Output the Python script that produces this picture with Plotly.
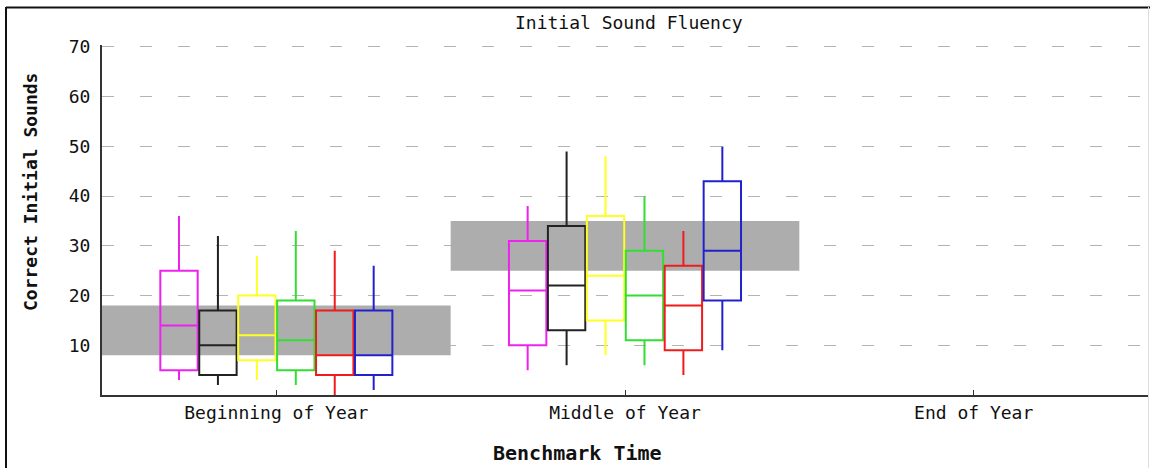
import plotly.graph_objects as go

# ---- data ----
categories = ["Beginning of Year", "Middle of Year", "End of Year"]
data_categories = ["Beginning of Year", "Middle of Year"]

series_names = ["Group 1", "Group 2", "Group 3", "Group 4", "Group 5", "Group 6"]
series_colors = ["#ee22ee", "#222222", "#ffff22", "#33dd33", "#ee1c1c", "#2222cc"]

lower_whisker = [[3, 5], [2, 6], [3, 8], [2, 6], [0, 4], [1, 9]]
q1_values     = [[5, 10], [4, 13], [7, 15], [5, 11], [4, 9], [4, 19]]
median_values = [[14, 21], [10, 22], [12, 24], [11, 20], [8, 18], [8, 29]]
q3_values     = [[25, 31], [17, 34], [20, 36], [19, 29], [17, 26], [17, 43]]
upper_whisker = [[36, 38], [32, 49], [28, 48], [33, 40], [29, 33], [26, 50]]

# benchmark goal bands per category
band_low = [8, 25]
band_high = [18, 35]

y_tick_values = [10, 20, 30, 40, 50, 60, 70]

MONO = "DejaVu Sans Mono"

fig = go.Figure()
for i, name in enumerate(series_names):
    fig.add_trace(go.Box(
        name=name,
        x=data_categories,
        q1=q1_values[i],
        median=median_values[i],
        q3=q3_values[i],
        lowerfence=lower_whisker[i],
        upperfence=upper_whisker[i],
        boxpoints=False,
        whiskerwidth=0,
        line=dict(color=series_colors[i], width=2),
        fillcolor="rgba(0,0,0,0)",
        hoverinfo="skip",
    ))

shapes = []
for k, (lo, hi) in enumerate(zip(band_low, band_high)):
    shapes.append(dict(type="rect", xref="x", yref="y",
                       x0=k - 0.5, x1=k + 0.5, y0=lo, y1=hi,
                       fillcolor="#adadad", line=dict(width=0), layer="between"))

# plot-area pixel geometry (y range extended slightly so the 70 gridline shows)
Y_TOP = 70.4
L, R, B = 102, 1148, 395
PX_PER_UNIT = 348 / 70
T = B - Y_TOP * PX_PER_UNIT

def px_x(p):
    return (p - L) / (R - L)
def px_y(p):
    return (B - p) / (B - T)

shapes.append(dict(type="line", xref="paper", yref="paper",
                   x0=px_x(6), x1=px_x(6), y0=px_y(7), y1=px_y(470),
                   line=dict(color="#111111", width=2), layer="above"))
shapes.append(dict(type="line", xref="paper", yref="paper",
                   x0=px_x(6), x1=px_x(1152), y0=px_y(7.5), y1=px_y(7.5),
                   line=dict(color="#111111", width=2), layer="above"))
shapes.append(dict(type="line", xref="paper", yref="paper",
                   x0=px_x(1148.5), x1=px_x(1148.5), y0=px_y(7), y1=px_y(470),
                   line=dict(color="#dddddd", width=1), layer="above"))

annotations = [
    dict(text="Initial Sound Fluency", xref="paper", yref="paper",
         x=px_x(629), y=px_y(23), xanchor="center", yanchor="middle",
         showarrow=False, font=dict(family=MONO, size=18, color="#111111")),
    dict(text="Correct Initial Sounds", xref="paper", yref="paper",
         x=px_x(31), y=px_y(192), xanchor="center", yanchor="middle",
         textangle=-90, showarrow=False,
         font=dict(family=MONO, size=18, color="#111111", weight="bold")),
    dict(text="Benchmark Time", xref="paper", yref="paper",
         x=px_x(577), y=px_y(453), xanchor="center", yanchor="middle",
         showarrow=False,
         font=dict(family=MONO, size=20, color="#111111", weight="bold")),
]

fig.update_layout(
    width=1150, height=468,
    margin=dict(l=L, r=1150 - R, t=T, b=468 - B, pad=0),
    paper_bgcolor="white", plot_bgcolor="white",
    showlegend=False,
    boxmode="group", boxgap=0.33, boxgroupgap=0.04,
    shapes=shapes, annotations=annotations,
    xaxis=dict(type="category", categoryorder="array", categoryarray=categories,
               range=[-0.5, 2.5], showgrid=False, zeroline=False,
               showline=True, linecolor="#333333", linewidth=2,
               ticks="inside", ticklen=5, tickcolor="#333333", tickwidth=1,
               tickfont=dict(family=MONO, size=18, color="#111111")),
    yaxis=dict(range=[0, Y_TOP], tickvals=y_tick_values, showgrid=True,
               gridcolor="#b4b4b4", gridwidth=1, griddash="12px,26px",
               zeroline=False, showline=True, linecolor="#333333", linewidth=2,
               ticks="", ticklabelstandoff=6,
               tickfont=dict(family=MONO, size=18, color="#111111")),
)

fig.write_html("out.html")
